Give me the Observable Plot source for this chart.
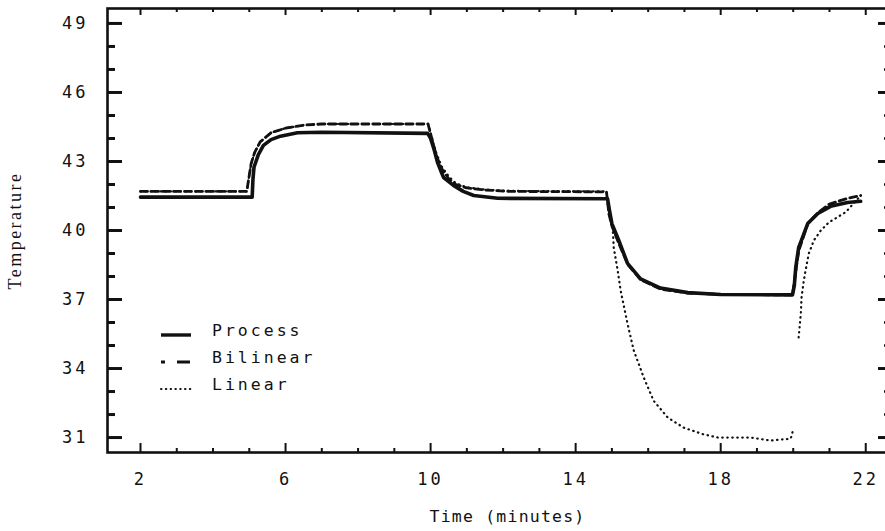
<!DOCTYPE html>
<html>
<head>
<meta charset="utf-8">
<script src="https://cdn.jsdelivr.net/npm/d3@7"></script>
<script src="https://cdn.jsdelivr.net/npm/@observablehq/plot@0.6"></script>
<style>
  html, body { margin: 0; padding: 0; background: #fff; }
  #chart { position: relative; width: 885px; height: 531px; overflow: hidden; }
  #chart g[aria-label="y-axis tick label"] text,
  #chart g[aria-label="x-axis tick label"] text { letter-spacing: 3px; }
  #chart g[aria-label="text"] text { letter-spacing: 1.2px; }
  .legend { position: absolute; left: 160px; top: 317px; font-family: "DejaVu Sans Mono", monospace;
            font-size: 16.5px; letter-spacing: 3px; color: #111; }
  .legend .row { display: flex; align-items: center; height: 27px; }
  .legend svg { width: 32px; height: 12px; margin-right: 20px; margin-top: 8px; }
</style>
</head>
<body>
<div id="chart"></div>
<script>
// Measured process temperature and the two model responses (time in minutes)
const processTime = [2, 5.08, 5.1, 5.13, 5.25, 5.39, 5.6, 5.86, 6.33, 7, 9.92, 10.0, 10.1, 10.19, 10.28, 10.36, 10.63, 10.9, 11.19, 11.85, 14.88, 14.93, 15.0, 15.19, 15.43, 15.79, 16.34, 17.09, 18, 19.98, 20.03, 20.07, 20.15, 20.4, 20.68, 21.03, 21.5, 21.86];
const processTemp = [41.45, 41.45, 42.2, 42.75, 43.3, 43.7, 43.95, 44.1, 44.25, 44.27, 44.22, 44.0, 43.5, 42.96, 42.6, 42.3, 41.96, 41.7, 41.52, 41.4, 41.38, 40.9, 40.3, 39.57, 38.57, 37.9, 37.5, 37.3, 37.22, 37.2, 37.6, 38.4, 39.26, 40.3, 40.74, 41.05, 41.22, 41.27];

const bilinearTime = [2, 4.93, 4.98, 5.05, 5.15, 5.3, 5.6, 6.0, 6.5, 7.0, 9.93, 10.0, 10.15, 10.3, 10.5, 10.7, 11.0, 11.5, 12.2, 14.85, 14.92, 15.0, 15.2, 15.45, 15.8, 16.35, 17.1, 18, 19.98, 20.05, 20.15, 20.4, 20.7, 21.0, 21.5, 21.86];
const bilinearTemp = [41.7, 41.7, 42.2, 42.9, 43.4, 43.85, 44.25, 44.45, 44.58, 44.63, 44.63, 44.2, 43.3, 42.7, 42.25, 42.0, 41.85, 41.76, 41.7, 41.68, 40.7, 40.2, 39.4, 38.5, 37.85, 37.45, 37.28, 37.22, 37.2, 38.0, 39.1, 40.3, 40.8, 41.15, 41.4, 41.52];

// null marks the break in the linear model trace at the 20-minute step
const linearTime = [2, 4.93, 4.98, 5.05, 5.15, 5.3, 5.6, 6.0, 6.5, 7.0, 9.93, 10.0, 10.15, 10.3, 10.5, 10.7, 11.0, 11.5, 12.2, 14.85, 14.94, 15.02, 15.05, 15.16, 15.24, 15.43, 15.6, 15.88, 16.15, 16.54, 16.98, 17.5, 17.92, 18.83, 19.38, 19.93, 20.01, 20.08, 20.15, 20.21, 20.23, 20.29, 20.34, 20.43, 20.57, 20.76, 20.98, 21.45, 21.86];
const linearTemp = [41.7, 41.7, 42.2, 42.9, 43.4, 43.85, 44.25, 44.45, 44.58, 44.63, 44.63, 44.25, 43.4, 42.8, 42.35, 42.05, 41.88, 41.78, 41.72, 41.7, 40.8, 40.2, 39.26, 38.26, 37.4, 35.96, 34.8, 33.6, 32.6, 31.87, 31.43, 31.15, 31.0, 31.0, 30.87, 30.95, 31.4, null, 35.35, 36.4, 37.1, 37.8, 38.26, 39.0, 39.57, 40.0, 40.35, 40.8, 41.52];

// Axis ticks
const yMajor = [31, 34, 37, 40, 43, 46, 49];
const yMinor = d3.range(31, 50).filter(v => !yMajor.includes(v));
const xMajor = [2, 6, 10, 14, 18, 22];
const xMinor = d3.range(2, 23).filter(v => !xMajor.includes(v));

const seriesNames = ["Process", "Bilinear", "Linear"];

const toRows = (t, v) => t.map((time, i) => ({time, temp: v[i]}));
const processRows = toRows(processTime, processTemp);
const bilinearRows = toRows(bilinearTime, bilinearTemp);
const linearRows = toRows(linearTime, linearTemp);

const ink = "#111";
const font = "'DejaVu Sans Mono', monospace";

const chart = Plot.plot({
  width: 885,
  height: 531,
  marginLeft: 107,
  marginRight: -2,
  marginTop: 8,
  marginBottom: 79,
  style: {fontFamily: font, fontSize: "17px", color: ink, background: "#fff"},
  x: {domain: [1.09, 22.6]},
  y: {domain: [30.35, 49.65]},
  marks: [
    Plot.frame({stroke: ink, strokeWidth: 2.6}),
    // inward-pointing ticks on all four sides
    Plot.axisY(yMajor, {anchor: "left", tickSize: -15, strokeWidth: 3, fill: "none"}),
    Plot.axisY(yMinor, {anchor: "left", tickSize: -8, strokeWidth: 3, fill: "none"}),
    Plot.axisY(yMajor, {anchor: "right", tickSize: -10, strokeWidth: 3, fill: "none"}),
    Plot.axisY(yMinor, {anchor: "right", tickSize: -4, strokeWidth: 2.5, fill: "none"}),
    Plot.axisX(xMajor, {anchor: "bottom", tickSize: -9, strokeWidth: 2, fill: "none"}),
    Plot.axisX(xMinor, {anchor: "bottom", tickSize: -4, strokeWidth: 2, fill: "none"}),
    Plot.axisX(xMajor, {anchor: "top", tickSize: -6, strokeWidth: 2, fill: "none"}),
    Plot.axisX(xMinor, {anchor: "top", tickSize: -3, strokeWidth: 2, fill: "none"}),
    // tick labels
    Plot.axisY(yMajor, {anchor: "left", tickSize: 0, tickPadding: 19, label: null}),
    Plot.axisX(xMajor, {anchor: "bottom", tickSize: 0, tickPadding: 20, label: null}),
    // axis titles
    Plot.text(["Time (minutes)"], {frameAnchor: "bottom", textAnchor: "middle", lineAnchor: "middle", dx: 10, dy: 64, fontSize: 16.5}),
    Plot.text(["Temperature"], {frameAnchor: "left", textAnchor: "middle", lineAnchor: "middle", dx: -92, rotate: -90, fontFamily: "'Liberation Serif', serif", fontSize: 18, style: "letter-spacing:2.5px"}),
    // model and process traces
    Plot.line(linearRows, {x: "time", y: "temp", stroke: ink, strokeWidth: 2.2, strokeDasharray: "0.5,4.5", strokeLinecap: "round"}),
    Plot.line(bilinearRows, {x: "time", y: "temp", stroke: ink, strokeWidth: 2.8, strokeDasharray: "7,4"}),
    Plot.line(processRows, {x: "time", y: "temp", stroke: ink, strokeWidth: 3.6})
  ]
});

const host = document.getElementById("chart");
host.appendChild(chart);

// The rotated vertical title keeps wider letter spacing than the horizontal one
d3.select(chart).selectAll('g[aria-label="text"] text')
  .filter(function () { return this.textContent === "Temperature"; })
  .style("letter-spacing", "2.5px");

// Legend drawn inside the plot area
const swatches = {
  Process: {dash: null, width: 3.4, cap: "butt"},
  Bilinear: {dash: "4,12,13,30", width: 3, cap: "butt"},
  Linear: {dash: "0.5,4.3", width: 2, cap: "round"}
};
const legend = document.createElement("div");
legend.className = "legend";
for (const name of seriesNames) {
  const s = swatches[name];
  const row = document.createElement("div");
  row.className = "row";
  row.innerHTML = `<svg viewBox="0 0 32 12"><line x1="1" x2="31" y1="6" y2="6" stroke="${ink}" stroke-width="${s.width}" stroke-linecap="${s.cap}" ${s.dash ? `stroke-dasharray="${s.dash}"` : ""}/></svg><span>${name}</span>`;
  legend.appendChild(row);
}
host.appendChild(legend);
</script>
</body>
</html>
